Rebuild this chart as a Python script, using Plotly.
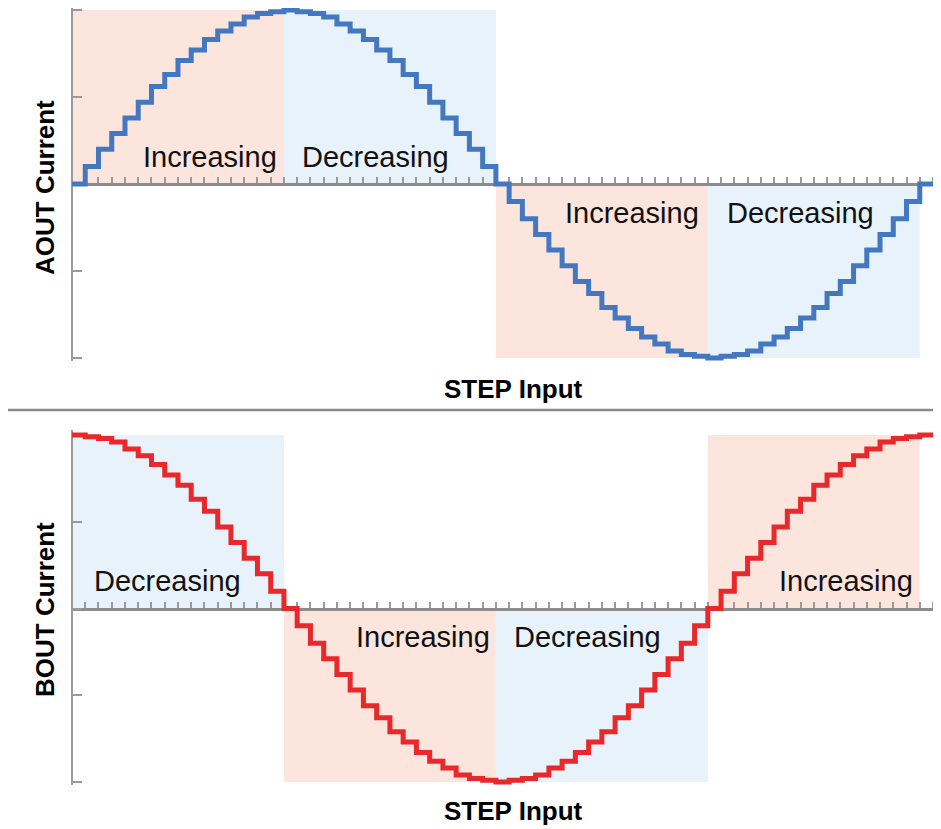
import plotly.graph_objects as go

# ---------------- data ----------------
steps = list(range(66))

aout = [0.00, 0.10, 0.20, 0.29, 0.38, 0.47, 0.56, 0.63, 0.71, 0.77, 0.83, 0.88, 0.92, 0.96, 0.98, 0.99,
        1.00, 0.99, 0.98, 0.96, 0.92, 0.88, 0.83, 0.77, 0.71, 0.63, 0.56, 0.47, 0.38, 0.29, 0.20, 0.10,
        0.00, -0.10, -0.20, -0.29, -0.38, -0.47, -0.56, -0.63, -0.71, -0.77, -0.83, -0.88, -0.92, -0.96, -0.98, -0.99,
        -1.00, -0.99, -0.98, -0.96, -0.92, -0.88, -0.83, -0.77, -0.71, -0.63, -0.56, -0.47, -0.38, -0.29, -0.20, -0.10,
        0.00, 0.00]

bout = [1.00, 0.99, 0.98, 0.96, 0.92, 0.88, 0.83, 0.77, 0.71, 0.63, 0.56, 0.47, 0.38, 0.29, 0.20, 0.10,
        0.00, -0.10, -0.20, -0.29, -0.38, -0.47, -0.56, -0.63, -0.71, -0.77, -0.83, -0.88, -0.92, -0.96, -0.98, -0.99,
        -1.00, -0.99, -0.98, -0.96, -0.92, -0.88, -0.83, -0.77, -0.71, -0.63, -0.56, -0.47, -0.38, -0.29, -0.20, -0.10,
        0.00, 0.10, 0.20, 0.29, 0.38, 0.47, 0.56, 0.63, 0.71, 0.77, 0.83, 0.88, 0.92, 0.96, 0.98, 0.99,
        1.00, 0.99]

quadrant_bounds = [0, 16, 32, 48, 64]
aout_regions = ["Increasing", "Decreasing", "Increasing", "Decreasing"]
bout_regions = ["Decreasing", "Increasing", "Decreasing", "Increasing"]

y_label_a = "AOUT Current"
y_label_b = "BOUT Current"
x_label = "STEP Input"

# ---------------- styling ----------------
OFF = 8                      # page body margin
W, H = 941 - OFF, 829 - OFF  # figure size
COL_INC = "#fce5dc"
COL_DEC = "#e7f2fa"
AX_COL = "#9a9a9a"
FONT = "Liberation Sans, Arial, sans-serif"


def px(x):
    return (x - OFF) / W


def py(y):
    return 1 - (y - OFF) / H


XR = [0, 65.3]
x_dom = [px(72), px(937)]


def axis_geom(top_px, bottom_px, pix_top, pix_bot):
    """value +1 at top_px, -1 at bottom_px; domain spans pix_top..pix_bot"""
    scale = (bottom_px - top_px) / 2.0
    r_hi = 1 + (top_px - pix_top) / scale
    r_lo = -1 - (pix_bot - bottom_px) / scale
    return [r_lo, r_hi], [py(pix_bot), py(pix_top)]


YA, dom_a = axis_geom(10, 358, 8, 361)
YB, dom_b = axis_geom(435, 782, 430, 785)


def zero_pos(dom, rng):
    return dom[0] + (0 - rng[0]) / (rng[1] - rng[0]) * (dom[1] - dom[0])


# label positions (step, value) for region text
a_label_pos = [(10.4, 0.155), (22.9, 0.155), (42.3, -0.167), (55.0, -0.167)]
b_label_pos = [(7.2, 0.161), (26.5, -0.167), (38.9, -0.167), (58.4, 0.161)]

fig = go.Figure()

fig.add_trace(go.Scatter(x=steps, y=aout, mode="lines", line=dict(shape="hv", color="#4378c0", width=5),
                         xaxis="x", yaxis="y", showlegend=False, hoverinfo="skip"))
fig.add_trace(go.Scatter(x=steps, y=bout, mode="lines", line=dict(shape="hv", color="#e8282a", width=5),
                         xaxis="x2", yaxis="y2", showlegend=False, hoverinfo="skip"))

shapes = []
annotations = []
for (xa, ya, vals, regions, lpos) in [("x", "y", aout, aout_regions, a_label_pos),
                                      ("x2", "y2", bout, bout_regions, b_label_pos)]:
    for i, name in enumerate(regions):
        x0, x1 = quadrant_bounds[i], quadrant_bounds[i + 1]
        seg = vals[x0:x1 + 1]
        sign = 1 if sum(seg) > 0 else -1
        shapes.append(dict(type="rect", xref=xa, yref=ya, x0=x0, x1=x1, y0=0, y1=sign * 1.0,
                           fillcolor=COL_INC if name == "Increasing" else COL_DEC,
                           line=dict(width=0), layer="below"))
        annotations.append(dict(xref=xa, yref=ya, x=lpos[i][0], y=lpos[i][1], text=name, showarrow=False,
                                xanchor="center", yanchor="middle",
                                font=dict(family=FONT, size=29, color="#111111")))

# separator line
shapes.append(dict(type="line", xref="paper", yref="paper", x0=0, x1=1, y0=py(410), y1=py(410),
                   line=dict(color="#8a8a8a", width=2.5)))

# axis titles
for (txt, x, y, ang) in [(x_label, 514, 389, 0), (x_label, 514, 811, 0),
                         (y_label_a, 45, 188, -90), (y_label_b, 45, 610, -90)]:
    annotations.append(dict(xref="paper", yref="paper", x=px(x), y=py(y), text="<b>%s</b>" % txt,
                            showarrow=False, textangle=ang, xanchor="center", yanchor="middle",
                            font=dict(family=FONT, size=26, color="#000000")))

xcommon = dict(range=XR, domain=x_dom, showgrid=False, zeroline=False, showline=True, linecolor="#8c8c8c",
               linewidth=2.5, ticks="inside", ticklen=6, tickwidth=1.5, tickcolor=AX_COL, tick0=0, dtick=1,
               showticklabels=False, layer="below traces", fixedrange=True)
ycommon = dict(showgrid=False, zeroline=False, showline=True, linecolor=AX_COL, linewidth=2,
               ticks="inside", ticklen=9, tickwidth=1.5, tickcolor=AX_COL, tickvals=[-1, -0.5, 0, 0.5, 1],
               showticklabels=False, layer="below traces", fixedrange=True)

fig.update_layout(
    width=W, height=H,
    margin=dict(l=0, r=0, t=0, b=0),
    paper_bgcolor="white", plot_bgcolor="rgba(0,0,0,0)",
    xaxis=dict(xcommon, anchor="free", position=zero_pos(dom_a, YA)),
    yaxis=dict(ycommon, range=YA, domain=dom_a, anchor="free", position=x_dom[0]),
    xaxis2=dict(xcommon, anchor="free", position=zero_pos(dom_b, YB)),
    yaxis2=dict(ycommon, range=YB, domain=dom_b, anchor="free", position=x_dom[0]),
    shapes=shapes, annotations=annotations,
    showlegend=False,
)

fig.write_html("out.html", config={"displayModeBar": False})
